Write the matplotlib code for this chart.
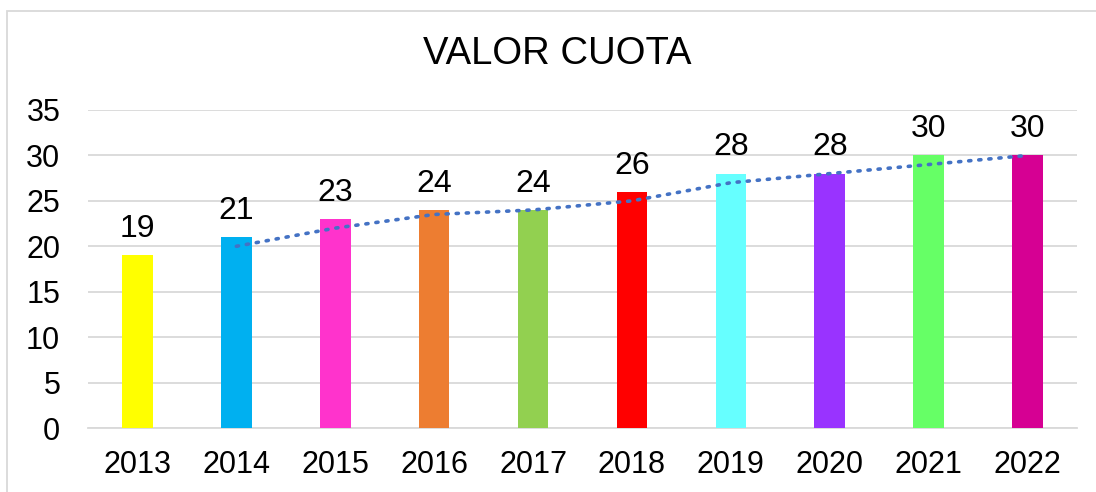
import matplotlib.pyplot as plt
from matplotlib.patches import Rectangle

years = ['2013', '2014', '2015', '2016', '2017', '2018', '2019', '2020', '2021', '2022']
values = [19, 21, 23, 24, 24, 26, 28, 28, 30, 30]
colors = ['#FFFF00', '#00B0F0', '#FF33CC', '#ED7D31', '#92D050',
          '#FF0000', '#66FFFF', '#9933FF', '#66FF66', '#D60093']
# trend line (2-period moving average)
trend_years = years[1:]
trend = [20, 22, 23.5, 24, 25, 27, 28, 29, 30]

plt.rcParams['font.family'] = ['Liberation Sans', 'DejaVu Sans']

fig = plt.figure(figsize=(10.96, 4.92), dpi=100)
ax = fig.add_axes([88/1096, 1 - 428/492, (1077-88)/1096, (428-110)/492])

x = list(range(len(years)))
ax.bar(x, values, width=0.31, color=colors, zorder=3)
for xi, v in zip(x, values):
    ax.annotate(str(v), (xi, v), xytext=(0, 8), textcoords='offset points',
                ha='center', va='bottom', fontsize=23)

tx = [years.index(y) for y in trend_years]
ax.plot(tx, trend, linestyle=(0, (0.6, 2.2)), color='#4472C4', linewidth=2.6,
        dash_capstyle='round', zorder=4)

ax.set_xlim(-0.5, len(years) - 0.5)
ax.set_ylim(0, 35)
ax.set_yticks(range(0, 36, 5))
ax.set_xticks(x)
ax.set_xticklabels(years)
ax.tick_params(axis='both', length=0, labelsize=22)
ax.tick_params(axis='x', pad=16)
ax.tick_params(axis='y', pad=20)
ax.grid(axis='y', color='#D9D9D9', linewidth=1.3, zorder=0)
for s in ['top', 'right', 'left']:
    ax.spines[s].set_visible(False)
ax.spines['bottom'].set_color('#D9D9D9')
ax.spines['bottom'].set_linewidth(1.3)

fig.text(557/1096, 1 - 54/492, 'VALOR CUOTA', ha='center', va='center', fontsize=27.5)

fig.patches.append(Rectangle((7/1096, -0.1), 1.1, 1.1 - 11/492,
                             transform=fig.transFigure, fill=False,
                             edgecolor='#D9D9D9', linewidth=1.3))

fig.savefig('out.png', dpi=100)
